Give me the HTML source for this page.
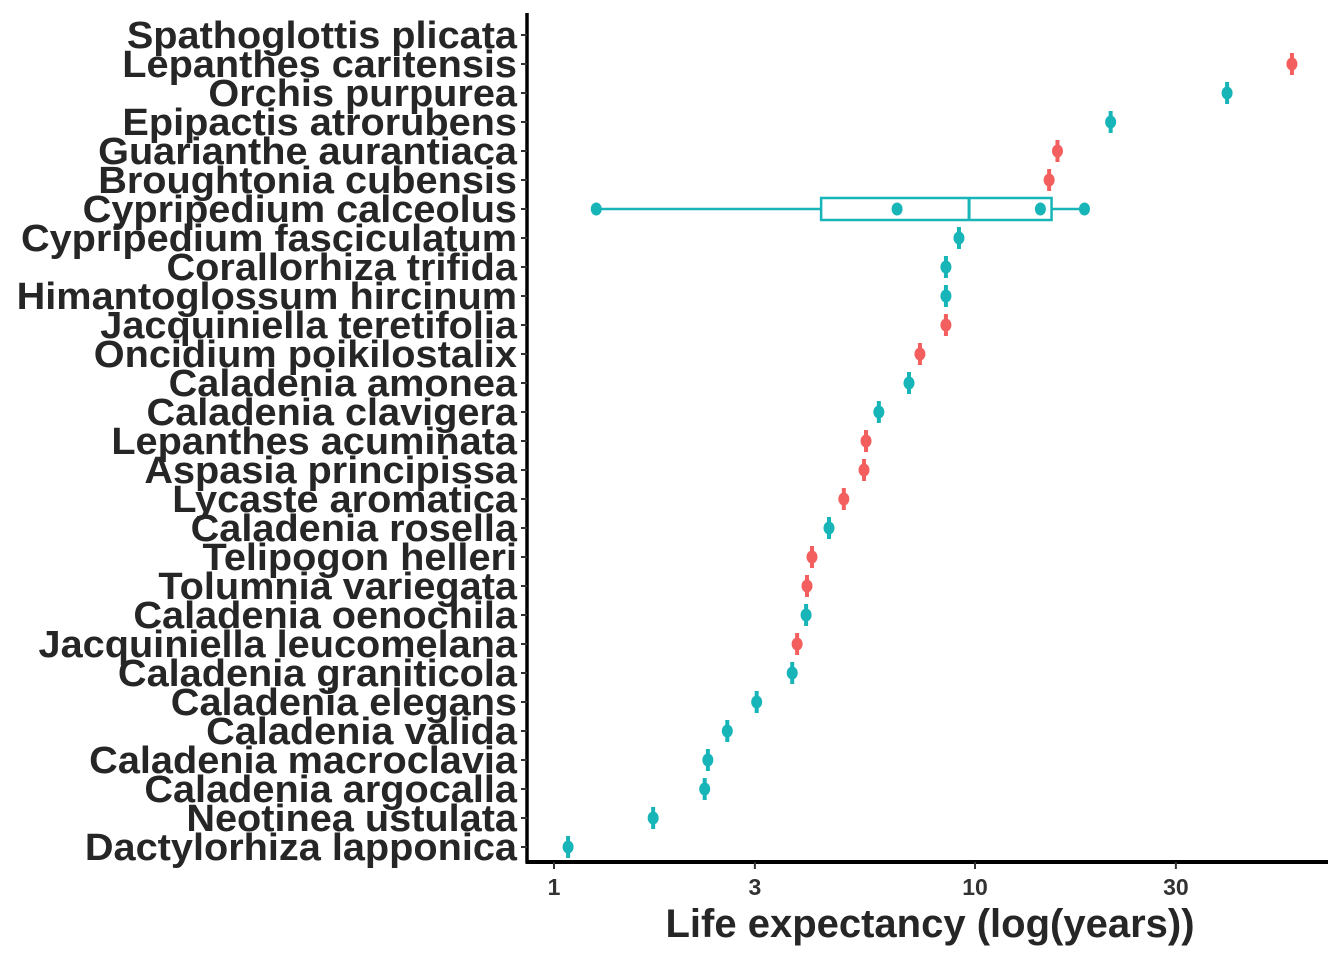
<!DOCTYPE html>
<html><head><meta charset="utf-8"><style>
html,body{margin:0;padding:0;background:#fff;}
svg{display:block;font-family:"Liberation Sans",Arial,sans-serif;}
</style></head><body>
<svg id="chart" width="1344" height="960">
<g id="plot"></g>
</svg>
<script>
const species = ["Spathoglottis plicata","Lepanthes caritensis","Orchis purpurea","Epipactis atrorubens","Guarianthe aurantiaca","Broughtonia cubensis","Cypripedium calceolus","Cypripedium fasciculatum","Corallorhiza trifida","Himantoglossum hircinum","Jacquiniella teretifolia","Oncidium poikilostalix","Caladenia amonea","Caladenia clavigera","Lepanthes acuminata","Aspasia principissa","Lycaste aromatica","Caladenia rosella","Telipogon helleri","Tolumnia variegata","Caladenia oenochila","Jacquiniella leucomelana","Caladenia graniticola","Caladenia elegans","Caladenia valida","Caladenia macroclavia","Caladenia argocalla","Neotinea ustulata","Dactylorhiza lapponica"];
const values = [null,56.6,39.7,21.0,15.7,15.0,null,9.16,8.53,8.53,8.53,7.40,6.97,5.91,5.51,5.45,4.88,4.50,4.10,3.99,3.97,3.78,3.68,3.03,2.58,2.32,2.28,1.72,1.08];
const groups = ["t","r","t","t","r","r","t","t","t","t","r","r","t","t","r","r","r","t","r","r","t","r","t","t","t","t","t","t","t"];
const boxSpecies = "Cypripedium calceolus";
const boxStats = [1.26,4.31,9.68,15.2,18.2];
const boxPoints = [1.26,6.53,14.3,18.2];
const xTicks = [1,3,10,30];
const xTickLabels = ["1","3","10","30"];

const NS="http://www.w3.org/2000/svg";
const svg=document.getElementById('chart');
const plot=document.getElementById('plot');
const colors={r:"#F35F5F",t:"#17B4B8"};
function x(v){return 554+421*Math.log10(v);}
function y(i){return 35+i*29;}
function mk(tag,attrs,parent){const e=document.createElementNS(NS,tag);for(const k in attrs)e.setAttribute(k,attrs[k]);(parent||svg).appendChild(e);return e;}
function stretch(el,f){const w=el.getComputedTextLength();el.setAttribute('textLength',w*f);el.setAttribute('lengthAdjust','spacingAndGlyphs');}

let a=mk('line',{x1:527,y1:13,x2:527,y2:863,stroke:'#000','stroke-width':3.5});


a=mk('line',{x1:525.5,y1:862,x2:1328,y2:862,stroke:'#000','stroke-width':4});



species.forEach((s,i)=>{
  const t=mk('line',{x1:521,x2:527,y1:y(i),y2:y(i),stroke:'#333','stroke-width':2});
  
  
  const l=mk('text',{x:517,y:y(i)+13,'text-anchor':'end','font-size':38,'font-weight':'bold',fill:'#262626'});
  l.textContent=s;
  
  
  stretch(l,1.044);
});
xTicks.forEach((v,k)=>{
  const t=mk('line',{x1:x(v),x2:x(v),y1:862,y2:869,stroke:'#333','stroke-width':2});
  
  
  const l=mk('text',{x:x(v),y:895,'text-anchor':'middle','font-size':23,'font-weight':'bold',fill:'#333'});
  l.textContent=xTickLabels[k];
  
  
});
const title=mk('text',{x:930,y:937,'text-anchor':'middle','font-size':40,'font-weight':'bold',fill:'#262626'});
title.textContent="Life expectancy (log(years))";


stretch(title,1.0);

const bi=species.indexOf(boxSpecies);
const by=y(bi), bc=colors[groups[bi]];
let e=mk('line',{x1:x(boxStats[0]),x2:x(boxStats[1]),y1:by,y2:by,stroke:bc,'stroke-width':2.5},plot);


e=mk('line',{x1:x(boxStats[3]),x2:x(boxStats[4]),y1:by,y2:by,stroke:bc,'stroke-width':2.5},plot);


e=mk('rect',{x:x(boxStats[1]),y:by-11,width:x(boxStats[3])-x(boxStats[1]),height:22,fill:'#fff',stroke:bc,'stroke-width':2.5},plot);


e=mk('line',{x1:x(boxStats[2]),x2:x(boxStats[2]),y1:by-11,y2:by+11,stroke:bc,'stroke-width':3},plot);


boxPoints.forEach(v=>{
  const p=mk('ellipse',{cx:x(v),cy:by,rx:5.5,ry:6.5,fill:bc},plot);
  
  
});

values.forEach((v,i)=>{
  if(v==null) return;
  const c=colors[groups[i]];
  const b=mk('line',{x1:x(v),x2:x(v),y1:y(i)-11,y2:y(i)+11,stroke:c,'stroke-width':4},plot);
  
  
  const p=mk('ellipse',{cx:x(v),cy:y(i),rx:5.5,ry:6.5,fill:c},plot);
  
  
});
</script>
</body></html>
